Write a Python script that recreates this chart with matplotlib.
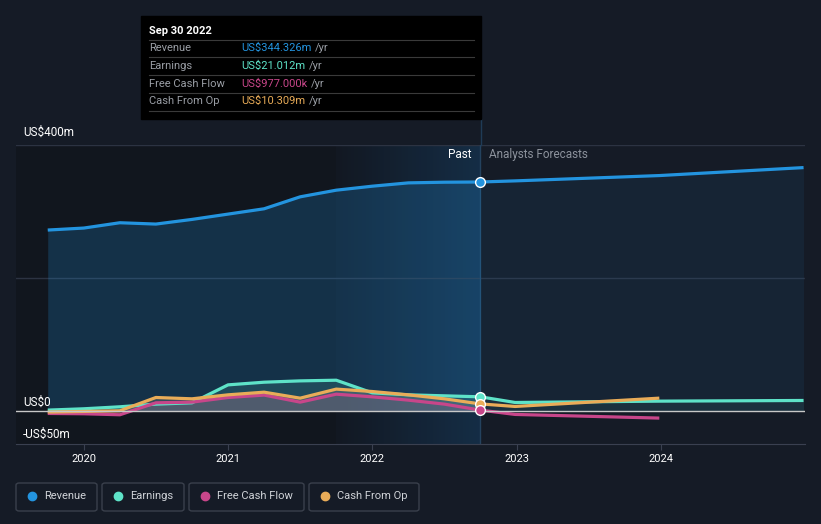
import numpy as np
import matplotlib.pyplot as plt
from matplotlib.patches import FancyBboxPatch, Rectangle

plt.rcParams['font.family'] = ['Roboto', 'DejaVu Sans']

# past values (US$m), quarterly trailing twelve months
past_t = [2019.75, 2020.0, 2020.25, 2020.5, 2020.75, 2021.0, 2021.25,
          2021.5, 2021.75, 2022.0, 2022.25, 2022.5, 2022.75]
revenue_past = [272, 275, 283, 281, 288, 296, 304, 322, 332, 338, 343, 344, 344.326]
earnings_past = [1, 3, 6, 10, 12, 39, 43, 45, 46, 27, 24, 22.5, 21.012]
fcf_past = [-4, -4.5, -6, 12, 13, 20, 23.6, 13, 25, 21, 16, 10, 0.977]
cfo_past = [-2, -1, 0, 20, 18, 24, 28, 19, 32.6, 29, 24, 18, 10.309]

# analyst forecasts
fc_t = [2022.75, 2022.99, 2023.99, 2024.99]
revenue_fc = [344.326, 346, 354, 366]
earnings_fc = [21.012, 12.5, 14.5, 15.5]
fc_t_cash = [2022.75, 2022.99, 2023.99]
fcf_fc = [0.977, -5.5, -11]
cfo_fc = [10.309, 6.5, 19]

years = [2020, 2021, 2022, 2023, 2024]
names = ['Revenue', 'Earnings', 'Free Cash Flow', 'Cash From Op']
colors = ['#2394df', '#5ee3c8', '#c8468a', '#e9ac58']
tip_values = ['US$344.326m', 'US$21.012m', 'US$977.000k', 'US$10.309m']

bg = '#151b26'
fig = plt.figure(figsize=(8.21, 5.24), dpi=100, facecolor=bg)
W, H = 821, 524
ax = fig.add_axes([16 / W, 1 - 444 / H, 789 / W, 299 / H])
ax.set_facecolor(bg)
x0, x1 = 2019.53, 2025.0
ax.set_xlim(x0, x1)
ax.set_ylim(-50, 400)

# darker past area and highlighted last year
ax.axvspan(x0, 2021.75, color='#0e1219', alpha=0.55, lw=0, zorder=0)
grad = np.linspace(0, 1, 256).reshape(1, -1)
ax.imshow(grad, extent=[2021.75, 2022.75, -50, 400], aspect='auto',
          cmap=plt.matplotlib.colors.LinearSegmentedColormap.from_list(
              'g', ['#121822', '#15304a']), zorder=0.5, alpha=0.9)

# grid
for v in [200, 400]:
    ax.axhline(v, color='#2c3342', lw=1, zorder=1)
ax.axhline(0, color='#c8c8c8', lw=1, zorder=6)

# fills
ax.fill_between(past_t, revenue_past, 0, color=colors[0], alpha=0.22, lw=0, zorder=2)
ax.fill_between(fc_t, revenue_fc, 0, color=colors[0], alpha=0.08, lw=0, zorder=2)
ax.fill_between(past_t, earnings_past, 0, color=colors[1], alpha=0.15, lw=0, zorder=3)
ax.fill_between(fc_t, earnings_fc, 0, color=colors[1], alpha=0.07, lw=0, zorder=3)
ax.fill_between(past_t, cfo_past, 0, color='#8a8a8a', alpha=0.3, lw=0, zorder=3)
ax.fill_between(past_t, fcf_past, 0, color=colors[2], alpha=0.12, lw=0, zorder=3)

# lines
lw = 2.3
ax.plot(past_t, revenue_past, color=colors[0], lw=lw, zorder=5, solid_capstyle='butt')
ax.plot(fc_t, revenue_fc, color=colors[0], lw=lw, zorder=5, solid_capstyle='butt')
ax.plot(past_t, earnings_past, color=colors[1], lw=lw, zorder=5, solid_capstyle='butt')
ax.plot(fc_t, earnings_fc, color=colors[1], lw=lw, zorder=5, solid_capstyle='butt')
ax.plot(past_t, fcf_past, color=colors[2], lw=lw, zorder=5, solid_capstyle='butt')
ax.plot(fc_t_cash, fcf_fc, color=colors[2], lw=lw, zorder=5, solid_capstyle='butt')
ax.plot(past_t, cfo_past, color=colors[3], lw=lw, zorder=5, solid_capstyle='butt')
ax.plot(fc_t_cash, cfo_fc, color=colors[3], lw=lw, zorder=5, solid_capstyle='butt')

# markers at the present point
for v, c in zip([revenue_past[-1], earnings_past[-1], cfo_past[-1], fcf_past[-1]],
                [colors[0], colors[1], colors[3], colors[2]]):
    ax.plot([past_t[-1]], [v], 'o', ms=7, mfc=c, mec='white', mew=1, zorder=8)

# present divider line
ax.plot([2022.75, 2022.75], [-50, 400], color='#24425e', lw=1, zorder=1.5)
fig.add_artist(plt.Line2D([480.5 / W, 480.5 / W], [1 - 119 / H, 1 - 145 / H],
                          color='#1f3b56', lw=1))

ax.text(2022.69, 385, 'Past', color='white', fontsize=8.5, ha='right', va='center')
ax.text(2022.81, 385, 'Analysts Forecasts', color='#8c929c', fontsize=8.5,
        ha='left', va='center')

# y labels
ax.text(2019.58, 410, 'US$400m', color='white', fontsize=8.5, va='bottom')
ax.text(2019.58, 3, 'US$0', color='white', fontsize=8.5, va='bottom')
ax.text(2019.58, -45, '-US$50m', color='white', fontsize=8.5, va='bottom')

# axes
for s in ['top', 'right', 'left']:
    ax.spines[s].set_visible(False)
ax.spines['bottom'].set_color('#3a4050')
ax.set_yticks([])
ax.set_xticks(years)
ax.set_xticklabels([str(y) for y in years], color='white', fontsize=8)
ax.tick_params(axis='x', color='#3a4050', length=4, pad=3)

# tooltip
fig.add_artist(Rectangle((141 / W, 1 - 119 / H), 340 / W, 103 / H,
                         transform=fig.transFigure, color='black', zorder=10))
fig.text(149 / W, 1 - 31 / H, 'Sep 30 2022', color='white', fontsize=8,
         fontweight='bold', va='center', zorder=11)
rows_y = [48, 66, 84, 101]
for i, (n, v, c) in enumerate(zip(names, tip_values, colors)):
    yy = 1 - rows_y[i] / H
    fig.text(149 / W, yy, n, color='#9a9ea5', fontsize=8, va='center', zorder=11)
    t = fig.text(241 / W, yy, v, color=c, fontsize=8, va='center', zorder=11)
    fig.canvas.draw()
    bb = t.get_window_extent()
    fig.text((bb.x1 + 4) / W, yy, '/yr', color='#9a9ea5', fontsize=8,
             va='center', zorder=11)
for ly in [40, 57, 75, 93, 111]:
    fig.add_artist(plt.Line2D([149 / W, 474 / W], [1 - ly / H, 1 - ly / H],
                              color='#3a3a3a', lw=0.8, zorder=11))

# legend boxes
boxes = [(16, 97), (102, 184), (189, 304), (309, 419)]
for (bx0, bx1), n, c in zip(boxes, names, colors):
    fig.add_artist(FancyBboxPatch((bx0 / W, 1 - 511 / H), (bx1 - bx0) / W, 28 / H,
                                  boxstyle='round,pad=0,rounding_size=0.004',
                                  transform=fig.transFigure, fc='none',
                                  ec='#3a404c', lw=1))
    fig.add_artist(plt.Line2D([(bx0 + 16) / W], [1 - 496 / H], marker='o', ms=6,
                              color=c, transform=fig.transFigure))
    fig.text((bx0 + 28) / W, 1 - 496 / H, n, color='#d0d3d8', fontsize=8,
             va='center')

fig.savefig('out.png', dpi=100, facecolor=bg)
